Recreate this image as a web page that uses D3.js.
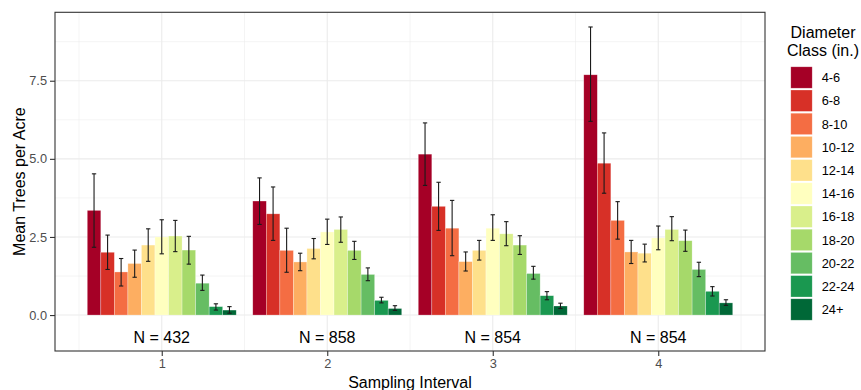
<!DOCTYPE html>
<html>
<head>
<meta charset="utf-8">
<script src="https://cdn.jsdelivr.net/npm/d3@7"></script>
<style>
  body { margin: 0; background: #fff; }
  svg { font-family: "Liberation Sans", Arial, sans-serif; }
</style>
</head>
<body>
<div id="chart"></div>
<script>
// data
const intervals = [1, 2, 3, 4];
const nLabels = ["N = 432", "N = 858", "N = 854", "N = 854"];
const classes = ["4-6", "6-8", "8-10", "10-12", "12-14", "14-16", "16-18", "18-20", "20-22", "22-24", "24+"];
const classColors = ["#a50026", "#d73027", "#f46d43", "#fdae61", "#fee08b", "#ffffbf",
                     "#d9ef8b", "#a6d96a", "#66bd63", "#1a9850", "#006837"];

// mean trees per acre, one row per sampling interval
const means = [
    [3.35, 2.01, 1.38, 1.65, 2.24, 2.50, 2.53, 2.08, 1.02, 0.27, 0.16],
    [3.65, 3.24, 2.07, 1.70, 2.13, 2.66, 2.74, 2.07, 1.30, 0.47, 0.21],
    [5.15, 3.48, 2.78, 1.71, 2.07, 2.78, 2.60, 2.24, 1.33, 0.62, 0.29],
    [7.69, 4.86, 3.03, 2.02, 1.98, 2.47, 2.74, 2.38, 1.46, 0.76, 0.39]
];
const lower = [
    [2.17, 1.46, 0.93, 1.21, 1.72, 1.96, 2.03, 1.63, 0.79, 0.16, 0.06],
    [2.90, 2.39, 1.37, 1.42, 1.80, 2.26, 2.33, 1.78, 1.10, 0.39, 0.15],
    [4.15, 2.71, 1.90, 1.41, 1.76, 2.39, 2.22, 1.94, 1.15, 0.49, 0.21],
    [6.20, 3.90, 2.43, 1.65, 1.70, 2.09, 2.38, 2.04, 1.23, 0.61, 0.31]
];
const upper = [
    [4.52, 2.56, 1.81, 2.08, 2.76, 3.05, 3.03, 2.52, 1.28, 0.36, 0.27],
    [4.39, 4.10, 2.78, 1.98, 2.45, 3.07, 3.14, 2.36, 1.51, 0.57, 0.30],
    [6.15, 4.25, 3.67, 2.02, 2.39, 3.21, 2.99, 2.54, 1.56, 0.75, 0.38],
    [9.22, 5.83, 3.63, 2.39, 2.27, 2.85, 3.15, 2.72, 1.69, 0.91, 0.49]
];
const yTicks = [0, 2.5, 5, 7.5];
const yMinor = [1.25, 3.75, 6.25, 8.75];
const xMinor = [0.5, 1.5, 2.5, 3.5, 4.5];

const width = 861, height = 390;
const panel = {left: 55, right: 765, top: 12.3, bottom: 351};

const svg = d3.select("#chart").append("svg")
    .attr("width", width)
    .attr("height", height);

const x = d3.scaleLinear().domain([0.355, 4.645]).range([panel.left, panel.right]);
const y = d3.scaleLinear().domain([-1.15, 9.69]).range([panel.bottom, panel.top]);

const color = d3.scaleOrdinal().domain(classes).range(classColors);

const dodge = 0.9;
const barW = dodge / classes.length;

// flatten into rows
let rows = [];
intervals.forEach(function (g, gi) {
    classes.forEach(function (c, ci) {
        rows.push({interval: g, cls: c, ci: ci, mean: means[gi][ci], lo: lower[gi][ci], hi: upper[gi][ci]});
    });
});

// grid
const grid = svg.append("g").attr("class", "grid");
grid.selectAll("line.ymin").data(yMinor).enter().append("line")
    .attr("x1", panel.left).attr("x2", panel.right)
    .attr("y1", d => y(d)).attr("y2", d => y(d))
    .style("stroke", "#ebebeb").style("stroke-width", 0.55);
grid.selectAll("line.xmin").data(xMinor).enter().append("line")
    .attr("y1", panel.top).attr("y2", panel.bottom)
    .attr("x1", d => x(d)).attr("x2", d => x(d))
    .style("stroke", "#ebebeb").style("stroke-width", 0.55);
grid.selectAll("line.ymaj").data(yTicks).enter().append("line")
    .attr("x1", panel.left).attr("x2", panel.right)
    .attr("y1", d => y(d)).attr("y2", d => y(d))
    .style("stroke", "#ebebeb").style("stroke-width", 1.1);
grid.selectAll("line.xmaj").data(intervals).enter().append("line")
    .attr("y1", panel.top).attr("y2", panel.bottom)
    .attr("x1", d => x(d)).attr("x2", d => x(d))
    .style("stroke", "#ebebeb").style("stroke-width", 1.1);

// bars
svg.append("g").attr("class", "bars")
    .selectAll("rect")
    .data(rows)
    .enter().append("rect")
    .attr("x", d => x(d.interval - dodge / 2 + d.ci * barW))
    .attr("width", d => x(barW) - x(0))
    .attr("y", d => y(d.mean))
    .attr("height", d => y(0) - y(d.mean))
    .style("fill", d => color(d.cls))
    .style("stroke", "white")
    .style("stroke-opacity", 0.45)
    .style("stroke-width", 0.6);

// error bars
const cap = barW * 0.16;
const err = svg.append("g").attr("class", "errors")
    .selectAll("g")
    .data(rows)
    .enter().append("g")
    .style("stroke", "#1a1a1a")
    .style("stroke-width", 1.1);
err.append("line")
    .attr("x1", d => x(d.interval - dodge / 2 + (d.ci + 0.5) * barW))
    .attr("x2", d => x(d.interval - dodge / 2 + (d.ci + 0.5) * barW))
    .attr("y1", d => y(d.lo)).attr("y2", d => y(d.hi));
err.append("line")
    .attr("x1", d => x(d.interval - dodge / 2 + (d.ci + 0.5) * barW - cap))
    .attr("x2", d => x(d.interval - dodge / 2 + (d.ci + 0.5) * barW + cap))
    .attr("y1", d => y(d.hi)).attr("y2", d => y(d.hi));
err.append("line")
    .attr("x1", d => x(d.interval - dodge / 2 + (d.ci + 0.5) * barW - cap))
    .attr("x2", d => x(d.interval - dodge / 2 + (d.ci + 0.5) * barW + cap))
    .attr("y1", d => y(d.lo)).attr("y2", d => y(d.lo));

// N labels
svg.append("g").selectAll("text")
    .data(intervals)
    .enter().append("text")
    .attr("x", d => x(d))
    .attr("y", y(-0.88))
    .attr("text-anchor", "middle")
    .style("font-size", "16px")
    .style("fill", "#000")
    .text((d, i) => nLabels[i]);

// panel border
svg.append("rect")
    .attr("x", panel.left).attr("y", panel.top)
    .attr("width", panel.right - panel.left)
    .attr("height", panel.bottom - panel.top)
    .style("fill", "none")
    .style("stroke", "#333333")
    .style("stroke-width", 1.1);

// axes
const yAxis = svg.append("g")
    .attr("transform", "translate(" + panel.left + ",0)")
    .call(d3.axisLeft(y).tickValues(yTicks).tickFormat(d3.format(".1f")).tickSize(5).tickPadding(3));
const xAxis = svg.append("g")
    .attr("transform", "translate(0," + panel.bottom + ")")
    .call(d3.axisBottom(x).tickValues(intervals).tickFormat(d3.format("d")).tickSize(5).tickPadding(3));
[yAxis, xAxis].forEach(function (a) {
    a.select(".domain").remove();
    a.selectAll(".tick line").style("stroke", "#333333").style("stroke-width", 1.1);
    a.selectAll(".tick text").style("fill", "#4d4d4d")
        .style("font-size", "12.8px")
        .style("font-family", "'Liberation Sans', Arial, sans-serif");
});

// axis titles
svg.append("text")
    .attr("x", (panel.left + panel.right) / 2)
    .attr("y", 388)
    .attr("text-anchor", "middle")
    .style("font-size", "16px")
    .text("Sampling Interval");
svg.append("text")
    .attr("transform", "translate(25," + ((panel.top + panel.bottom) / 2) + ") rotate(-90)")
    .attr("text-anchor", "middle")
    .style("font-size", "16px")
    .text("Mean Trees per Acre");

// legend
const legend = svg.append("g").attr("class", "legend");
legend.append("text")
    .attr("x", 823).attr("y", 37.5)
    .attr("text-anchor", "middle")
    .style("font-size", "16px")
    .text("Diameter");
legend.append("text")
    .attr("x", 823).attr("y", 56)
    .attr("text-anchor", "middle")
    .style("font-size", "16px")
    .text("Class (in.)");

const keyH = 23.2;
const key = legend.selectAll("g.key")
    .data(classes)
    .enter().append("g")
    .attr("class", "key")
    .attr("transform", (d, i) => "translate(790," + (66 + i * keyH) + ")");
key.append("rect")
    .attr("x", 0.8).attr("y", 0.8)
    .attr("width", 21.4).attr("height", 21.4)
    .style("fill", d => color(d))
    .style("stroke", "white")
    .style("stroke-opacity", 0.45)
    .style("stroke-width", 0.6);
key.append("text")
    .attr("x", 31.7).attr("y", 11.6)
    .attr("dy", "0.36em")
    .style("font-size", "12.8px")
    .style("fill", "#000")
    .text(d => d);
</script>
</body>
</html>
